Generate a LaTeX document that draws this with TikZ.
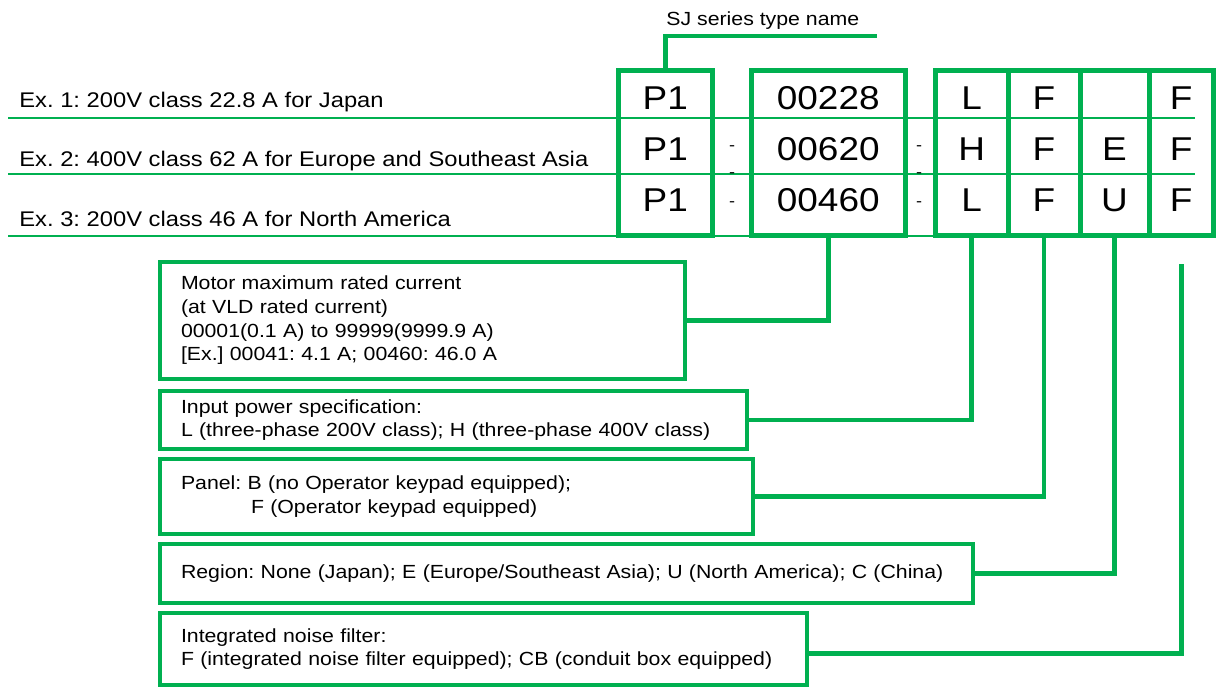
\documentclass[tikz,border=0pt]{standalone}
\usepackage{fontspec}
\setmainfont{Liberation Sans}[FakeStretch=1.12]
\usepackage{tikz}
\usetikzlibrary{positioning}
\definecolor{sjgreen}{RGB}{0,176,80}
\frenchspacing

\begin{document}
\begin{tikzpicture}[
    x=0.5pt, y=-0.5pt,
    codebox/.style={draw=sjgreen, line width=2.5pt, outer sep=0pt, inner sep=0pt, minimum height=82.75pt},
    code/.style={inner sep=0pt, font=\fontsize{16.5}{18}\selectfont},
    descbox/.style={draw=sjgreen, line width=2pt, outer sep=0pt, inner xsep=10.75pt, inner ysep=0pt, align=left, font=\fontsize{9.5}{11.9}\selectfont},
    example/.style={anchor=base west, inner sep=0pt, font=\fontsize{10.6}{12}\selectfont},
    hyph/.style={inner sep=0pt, font=\fontsize{8}{8}\selectfont},
    rowline/.style={draw=sjgreen, line width=1.3pt},
    wire/.style={draw=sjgreen, line width=2.3pt}
  ]
    \useasboundingbox (0,0) rectangle (1219,686);

    % row separators and examples
    \coordinate (row1) at (0,98.5);
    \coordinate (row2) at (0,149.5);
    \coordinate (row3) at (0,200.5);
    \draw[rowline] (8,118) -- (1195,118);
    \draw[rowline] (8,174) -- (1195,174);
    \draw[rowline] (8,236) -- (1195,236);
    \node[example] (ex1) at (19,107) {Ex. 1: 200V class 22.8 A for Japan};
    \node[example] (ex2) at (19,166) {Ex. 2: 400V class 62 A for Europe and Southeast Asia};
    \node[example] (ex3) at (19,226) {Ex. 3: 200V class 46 A for North America};

    % code fields
    \node[codebox, minimum width=47.25pt, anchor=north west] (colP) at (618,70) {};
    \node[codebox, minimum width=76.75pt, right=19.5pt of colP] (colN) {};
    \node[codebox, minimum width=36.25pt, right=15.25pt of colN] (colV) {};
    \node[codebox, minimum width=36pt, right=0pt of colV] (colK) {};
    \node[codebox, minimum width=34.5pt, right=0pt of colK] (colR) {};
    \node[codebox, minimum width=32.25pt, right=0pt of colR] (colF) {};

    \node[code] (p1) at (colP |- row1) {P1};
    \node[code] (p2) at (colP |- row2) {P1};
    \node[code] (p3) at (colP |- row3) {P1};
    \node[code] (n1) at (colN |- row1) {00228};
    \node[code] (n2) at (colN |- row2) {00620};
    \node[code] (n3) at (colN |- row3) {00460};
    \node[code] (v1) at (colV |- row1) {L};
    \node[code] (v2) at (colV |- row2) {H};
    \node[code] (v3) at (colV |- row3) {L};
    \node[code] (k1) at (colK |- row1) {F};
    \node[code] (k2) at (colK |- row2) {F};
    \node[code] (k3) at (colK |- row3) {F};
    \node[code] (r2) at (colR |- row2) {E};
    \node[code] (r3) at (colR |- row3) {U};
    \node[code] (f1) at (colF |- row1) {F};
    \node[code] (f2) at (colF |- row2) {F};
    \node[code] (f3) at (colF |- row3) {F};

    \node[hyph] (ha1) at (732,148) {-};
    \node[hyph] (ha2) at (732,175) {-};
    \node[hyph] (ha3) at (732,204) {-};
    \node[hyph] (hb1) at (919,148) {-};
    \node[hyph] (hb2) at (919,175) {-};
    \node[hyph] (hb3) at (919,204) {-};

    % type name label
    \coordinate (sjend) at (877,36);
    \node[anchor=base west, inner sep=0pt, font=\fontsize{9.5}{11}\selectfont] (sjlabel) at (666,25) {SJ series type name};
    \draw[wire] (colP.north) |- (sjend);

    % descriptions
    \node[descbox, text width=241pt, minimum height=58.75pt, anchor=north west] (descA) at (159.5,261.5)
      {Motor maximum rated current\\(at VLD rated current)\\00001(0.1 A) to 99999(9999.9 A)\\{[Ex.]} 00041: 4.1 A; 00460: 46.0 A};
    \node[descbox, text width=272.25pt, minimum height=29pt, below=6pt of descA.south west, anchor=north west] (descB)
      {Input power specification:\\L (three-phase 200V class); H (three-phase 400V class)};
    \node[descbox, text width=275pt, minimum height=37.5pt, below=5pt of descB.south west, anchor=north west] (descC)
      {Panel: B (no Operator keypad equipped);\\\hspace*{35pt}F (Operator keypad equipped)};
    \node[descbox, text width=385.25pt, minimum height=29.5pt, below=5pt of descC.south west, anchor=north west] (descD)
      {Region: None (Japan); E (Europe/Southeast Asia); U (North America); C (China)};
    \node[descbox, text width=302.25pt, minimum height=36pt, below=5pt of descD.south west, anchor=north west] (descE)
      {Integrated noise filter:\\F (integrated noise filter equipped); CB (conduit box equipped)};

    \draw[wire] (descA.east) -| (colN.south);
    \draw[wire] (descB.east) -| (colV.south);
    \draw[wire] (descC.east) -| (colK.south);
    \draw[wire] (descD.east) -| (colR.south);
    \coordinate (fend) at ([yshift=-14.25pt]colF.south);
    \draw[wire] ([yshift=-2.25pt]descE.east) -| (fend);
\end{tikzpicture}
\end{document}
